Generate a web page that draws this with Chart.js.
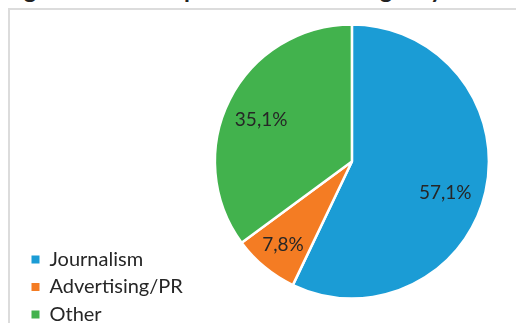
<!DOCTYPE html>
<html>
<head>
<meta charset="utf-8">
<script src="https://cdn.jsdelivr.net/npm/chart.js@4.4.0/dist/chart.umd.min.js"></script>
<style>
    html, body { margin: 0; padding: 0; background: #fff; overflow: hidden; }
    #wrap { position: relative; width: 516px; height: 323px; overflow: hidden; }
    #title {
        position: absolute; left: 4px; top: -23px;
        font: bold 24px Lato, sans-serif; line-height: 24px;
        color: #222; white-space: nowrap;
    }
    #frame {
        position: absolute; left: 8px; top: 8px; width: 540px; height: 340px;
        border: 2px solid #dcdcdc; box-sizing: border-box;
    }
    #chartBox { position: absolute; left: 0; top: 0; width: 550px; height: 323px; }
</style>
</head>
<body>
<div id="wrap">
    <div id="title">Figure 2: Alumni placement in the agency sector</div>
    <div id="frame"></div>
    <div id="chartBox"><canvas id="majorChart"></canvas></div>
</div>
<script>
    // 분야별 비율 (%)
    const categories = ['Journalism', 'Advertising/PR', 'Other'];
    const shares = [57.1, 7.8, 35.1];
    const sliceColors = ['#1b9cd5', '#f47c23', '#42b24d'];

    // 라벨 위치: 반지름 비율, 중심각 보정(도)
    const labelRadius = [0.72, 0.79, 0.73];
    const labelTurn = [6, 0, -2];

    // 57.1 -> "57,1%"
    function fmtShare(v) {
        return v.toFixed(1).replace('.', ',') + '%';
    }

    // 조각 안쪽에 값 라벨 그리기
    const sliceLabels = {
        id: 'sliceLabels',
        afterDatasetsDraw(chart) {
            const ctx = chart.ctx;
            const meta = chart.getDatasetMeta(0);
            ctx.save();
            ctx.font = '19px Lato, sans-serif';
            ctx.fillStyle = '#262626';
            ctx.textAlign = 'center';
            ctx.textBaseline = 'middle';
            meta.data.forEach((arc, i) => {
                const p = arc.getProps(['x', 'y', 'startAngle', 'endAngle', 'outerRadius'], true);
                const mid = (p.startAngle + p.endAngle) / 2 + labelTurn[i] * Math.PI / 180;
                const r = p.outerRadius * labelRadius[i];
                ctx.fillText(fmtShare(shares[i]), p.x + Math.cos(mid) * r, p.y + Math.sin(mid) * r);
            });
            ctx.restore();
        }
    };

    // 범례를 프레임 아래쪽으로 조금 내림
    const legendShift = {
        id: 'legendShift',
        afterLayout(chart) {
            chart.legend.top += 10;
            chart.legend.bottom += 10;
        }
    };

    let majorChart = null;

    function createMajorChart() {
        var ctx = document.getElementById('majorChart').getContext('2d');
        if (majorChart) {
            majorChart.destroy();
        }
        majorChart = new Chart(ctx, {
            type: 'pie',
            data: {
                labels: categories,
                datasets: [{
                    data: shares,
                    backgroundColor: sliceColors,
                    borderColor: '#ffffff',
                    borderWidth: 2.5,
                    radius: 137
                }]
            },
            options: {
                responsive: true,
                maintainAspectRatio: false,
                animation: false,
                layout: {
                    padding: { top: 1, bottom: 1, left: 24, right: 39 }
                },
                plugins: {
                    tooltip: { enabled: false },
                    legend: {
                        position: 'left',
                        align: 'end',
                        labels: {
                            boxWidth: 8,
                            boxHeight: 8,
                            padding: 7.5,
                            color: '#262626',
                            font: { family: 'Lato, sans-serif', size: 20 },
                            // 범례 상자에는 흰 테두리 없이
                            generateLabels(chart) {
                                const base = Chart.overrides.pie.plugins.legend.labels.generateLabels(chart);
                                return base.map(item => ({ ...item, lineWidth: 0 }));
                            }
                        }
                    }
                }
            },
            plugins: [sliceLabels, legendShift]
        });
    }

    createMajorChart();
</script>
</body>
</html>
